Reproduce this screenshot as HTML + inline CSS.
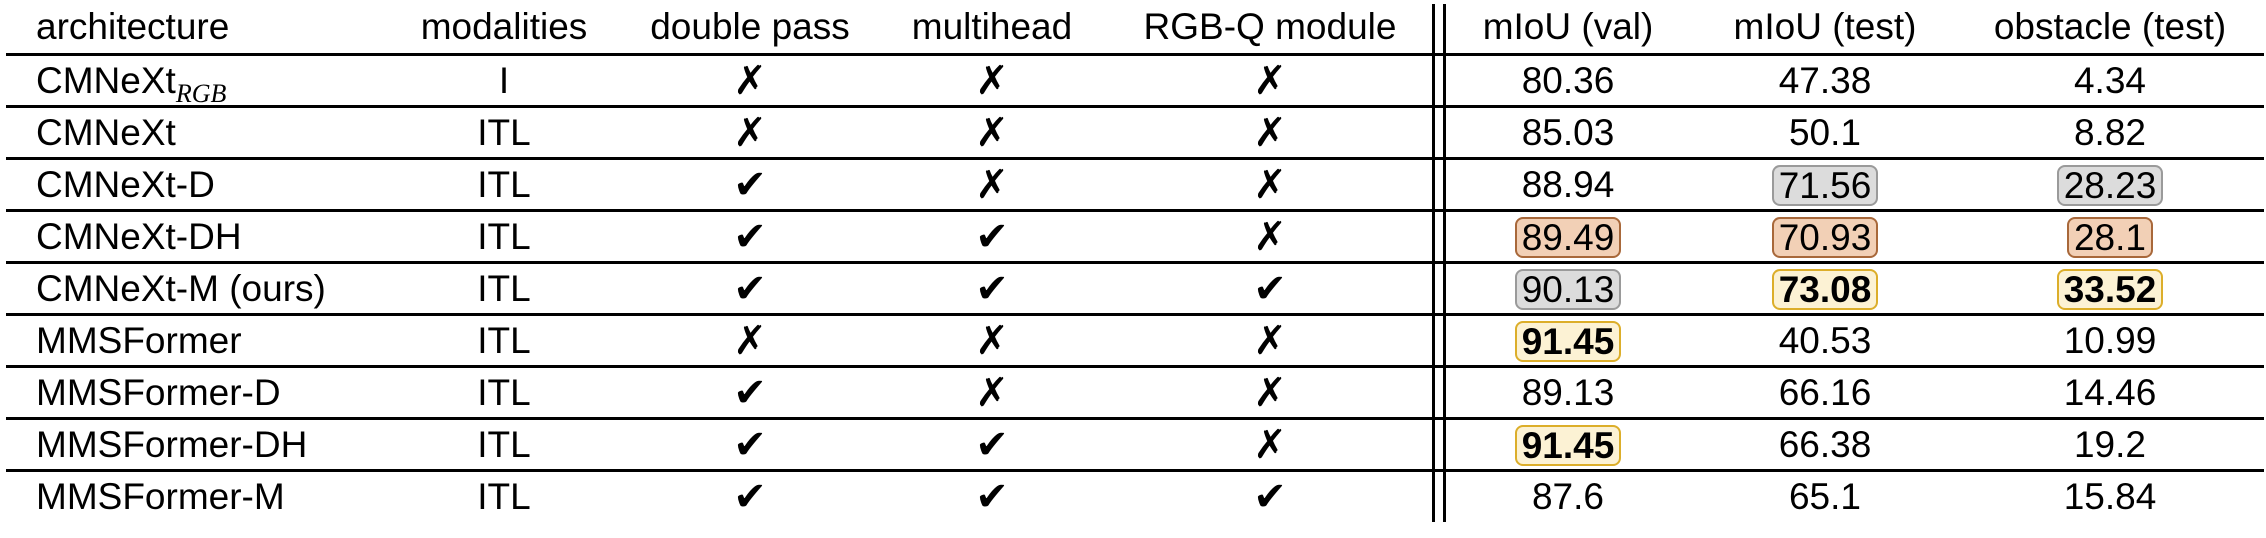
<!DOCTYPE html>
<html><head><meta charset="utf-8">
<style>
html,body{margin:0;padding:0;background:#fff;}
body{width:2266px;height:538px;position:relative;overflow:hidden;font-family:"Liberation Sans","DejaVu Sans",sans-serif;font-size:37px;color:#000;}
.hl{position:absolute;left:6px;width:2258px;height:3px;background:#000;}
.vl{position:absolute;top:4px;height:518px;width:3px;background:#000;}
.c{position:absolute;width:300px;height:52px;line-height:52px;text-align:center;white-space:nowrap;}
.l{position:absolute;left:36px;height:52px;line-height:52px;white-space:nowrap;}
.m{font-family:"DejaVu Sans",sans-serif;font-size:40px;}
.b{display:inline-block;height:37px;line-height:37px;padding:0 5px;border-radius:8px;border:2px solid;vertical-align:middle;margin-top:-4px;}
.g{background:#dcdcdc;border-color:#9a9a9a;}
.o{background:#f2d0b6;border-color:#a8683a;}
.y{background:#fcf2d4;border-color:#dcae2a;}
sub{font-family:"Liberation Serif",serif;font-style:italic;font-size:26px;vertical-align:-9px;line-height:0;}
</style></head><body>
<div class="hl" style="top:53px"></div>
<div class="hl" style="top:105px"></div>
<div class="hl" style="top:157px"></div>
<div class="hl" style="top:209px"></div>
<div class="hl" style="top:261px"></div>
<div class="hl" style="top:313px"></div>
<div class="hl" style="top:365px"></div>
<div class="hl" style="top:417px"></div>
<div class="hl" style="top:469px"></div>
<div class="vl" style="left:1432px"></div>
<div class="vl" style="left:1443px"></div>

<div class="l" style="top:1px">architecture</div>
<div class="c" style="top:1px;left:354px">modalities</div>
<div class="c" style="top:1px;left:600px">double pass</div>
<div class="c" style="top:1px;left:842px">multihead</div>
<div class="c" style="top:1px;left:1120px">RGB-Q module</div>
<div class="c" style="top:1px;left:1418px">mIoU (val)</div>
<div class="c" style="top:1px;left:1675px">mIoU (test)</div>
<div class="c" style="top:1px;left:1960px">obstacle (test)</div>

<div class="l" style="top:55px">CMNeXt<sub>RGB</sub></div>
<div class="c" style="top:55px;left:354px">I</div>
<div class="c m" style="top:55px;left:600px">✗</div>
<div class="c m" style="top:55px;left:842px">✗</div>
<div class="c m" style="top:55px;left:1120px">✗</div>
<div class="c" style="top:55px;left:1418px">80.36</div>
<div class="c" style="top:55px;left:1675px">47.38</div>
<div class="c" style="top:55px;left:1960px">4.34</div>

<div class="l" style="top:107px">CMNeXt</div>
<div class="c" style="top:107px;left:354px">ITL</div>
<div class="c m" style="top:107px;left:600px">✗</div>
<div class="c m" style="top:107px;left:842px">✗</div>
<div class="c m" style="top:107px;left:1120px">✗</div>
<div class="c" style="top:107px;left:1418px">85.03</div>
<div class="c" style="top:107px;left:1675px">50.1</div>
<div class="c" style="top:107px;left:1960px">8.82</div>

<div class="l" style="top:159px">CMNeXt-D</div>
<div class="c" style="top:159px;left:354px">ITL</div>
<div class="c m" style="top:159px;left:600px">✔</div>
<div class="c m" style="top:159px;left:842px">✗</div>
<div class="c m" style="top:159px;left:1120px">✗</div>
<div class="c" style="top:159px;left:1418px">88.94</div>
<div class="c" style="top:159px;left:1675px"><span class="b g">71.56</span></div>
<div class="c" style="top:159px;left:1960px"><span class="b g">28.23</span></div>

<div class="l" style="top:211px">CMNeXt-DH</div>
<div class="c" style="top:211px;left:354px">ITL</div>
<div class="c m" style="top:211px;left:600px">✔</div>
<div class="c m" style="top:211px;left:842px">✔</div>
<div class="c m" style="top:211px;left:1120px">✗</div>
<div class="c" style="top:211px;left:1418px"><span class="b o">89.49</span></div>
<div class="c" style="top:211px;left:1675px"><span class="b o">70.93</span></div>
<div class="c" style="top:211px;left:1960px"><span class="b o">28.1</span></div>

<div class="l" style="top:263px">CMNeXt-M (ours)</div>
<div class="c" style="top:263px;left:354px">ITL</div>
<div class="c m" style="top:263px;left:600px">✔</div>
<div class="c m" style="top:263px;left:842px">✔</div>
<div class="c m" style="top:263px;left:1120px">✔</div>
<div class="c" style="top:263px;left:1418px"><span class="b g">90.13</span></div>
<div class="c" style="top:263px;left:1675px"><span class="b y"><b>73.08</b></span></div>
<div class="c" style="top:263px;left:1960px"><span class="b y"><b>33.52</b></span></div>

<div class="l" style="top:315px">MMSFormer</div>
<div class="c" style="top:315px;left:354px">ITL</div>
<div class="c m" style="top:315px;left:600px">✗</div>
<div class="c m" style="top:315px;left:842px">✗</div>
<div class="c m" style="top:315px;left:1120px">✗</div>
<div class="c" style="top:315px;left:1418px"><span class="b y"><b>91.45</b></span></div>
<div class="c" style="top:315px;left:1675px">40.53</div>
<div class="c" style="top:315px;left:1960px">10.99</div>

<div class="l" style="top:367px">MMSFormer-D</div>
<div class="c" style="top:367px;left:354px">ITL</div>
<div class="c m" style="top:367px;left:600px">✔</div>
<div class="c m" style="top:367px;left:842px">✗</div>
<div class="c m" style="top:367px;left:1120px">✗</div>
<div class="c" style="top:367px;left:1418px">89.13</div>
<div class="c" style="top:367px;left:1675px">66.16</div>
<div class="c" style="top:367px;left:1960px">14.46</div>

<div class="l" style="top:419px">MMSFormer-DH</div>
<div class="c" style="top:419px;left:354px">ITL</div>
<div class="c m" style="top:419px;left:600px">✔</div>
<div class="c m" style="top:419px;left:842px">✔</div>
<div class="c m" style="top:419px;left:1120px">✗</div>
<div class="c" style="top:419px;left:1418px"><span class="b y"><b>91.45</b></span></div>
<div class="c" style="top:419px;left:1675px">66.38</div>
<div class="c" style="top:419px;left:1960px">19.2</div>

<div class="l" style="top:471px">MMSFormer-M</div>
<div class="c" style="top:471px;left:354px">ITL</div>
<div class="c m" style="top:471px;left:600px">✔</div>
<div class="c m" style="top:471px;left:842px">✔</div>
<div class="c m" style="top:471px;left:1120px">✔</div>
<div class="c" style="top:471px;left:1418px">87.6</div>
<div class="c" style="top:471px;left:1675px">65.1</div>
<div class="c" style="top:471px;left:1960px">15.84</div>
</body></html>
